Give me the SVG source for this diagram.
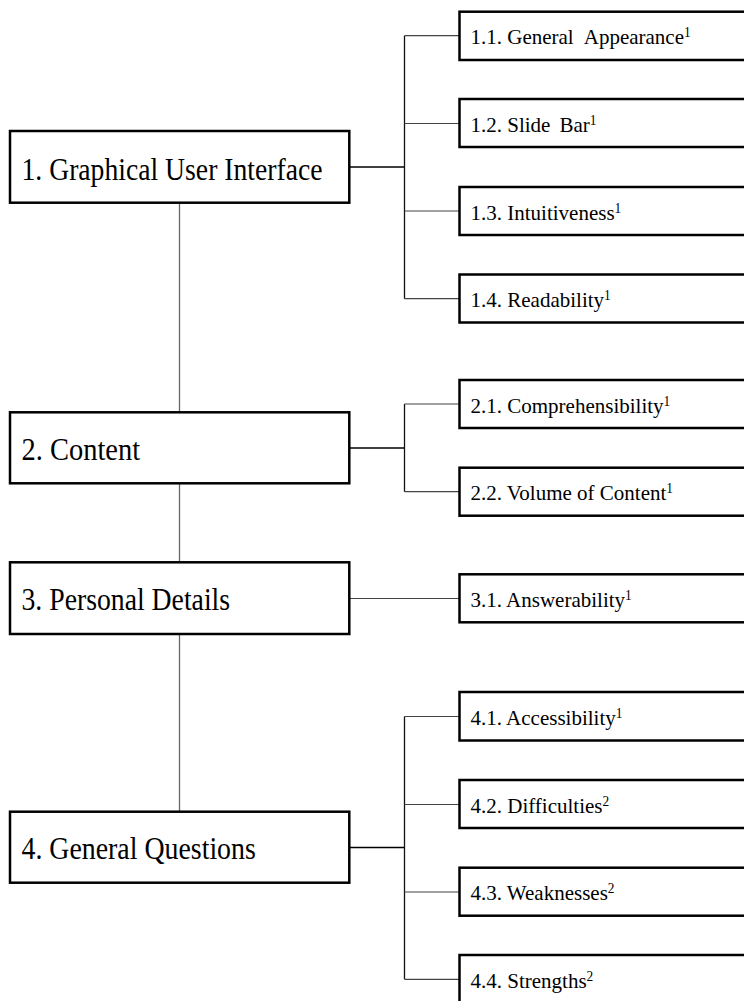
<svg xmlns="http://www.w3.org/2000/svg" width="744" height="1001" viewBox="0 0 744 1001">
  <style>
    .main rect { fill: #fff; stroke: #000; stroke-width: 2.5; }
    .sub rect { fill: #fff; stroke: #000; stroke-width: 2.5; }
    .main text { font-family: "Liberation Serif", "Times New Roman", serif; font-size: 32px; fill: #000; }
    .sub text { font-family: "Liberation Serif", "Times New Roman", serif; font-size: 22px; fill: #000; }
    .sup { font-size: 14px; }
    .trunk { stroke: #666; stroke-width: 1.3; fill: none; }
    .stem { stroke: #000; stroke-width: 1.6; fill: none; }
    .bracket { stroke: #111; stroke-width: 1.3; fill: none; }
    .branch { stroke: #444; stroke-width: 1.2; fill: none; }
  </style>

  <!-- connectors -->
  <g id="connectors">
    <!-- vertical trunk joining the four sections -->
    <line class="trunk" x1="179.5" y1="203" x2="179.5" y2="412"/>
    <line class="trunk" x1="179.5" y1="484" x2="179.5" y2="562"/>
    <line class="trunk" x1="179.5" y1="634" x2="179.5" y2="811"/>

    <!-- section 1 -->
    <line class="stem" x1="349" y1="167" x2="404.5" y2="167"/>
    <line class="bracket" x1="404.5" y1="35.7" x2="404.5" y2="298.7"/>
    <line class="branch" x1="404.5" y1="35.7" x2="459.5" y2="35.7"/>
    <line class="branch" x1="404.5" y1="123.5" x2="459.5" y2="123.5"/>
    <line class="branch" x1="404.5" y1="211" x2="459.5" y2="211"/>
    <line class="branch" x1="404.5" y1="298.7" x2="459.5" y2="298.7"/>

    <!-- section 2 -->
    <line class="stem" x1="349" y1="448" x2="404.5" y2="448"/>
    <line class="bracket" x1="404.5" y1="404" x2="404.5" y2="491.7"/>
    <line class="branch" x1="404.5" y1="404" x2="459.5" y2="404"/>
    <line class="branch" x1="404.5" y1="491.7" x2="459.5" y2="491.7"/>

    <!-- section 3 -->
    <line class="branch" x1="349" y1="598.5" x2="459.5" y2="598.5"/>

    <!-- section 4 -->
    <line class="stem" x1="349" y1="847.5" x2="404.5" y2="847.5"/>
    <line class="bracket" x1="404.5" y1="716.5" x2="404.5" y2="979.3"/>
    <line class="branch" x1="404.5" y1="716.5" x2="459.5" y2="716.5"/>
    <line class="branch" x1="404.5" y1="804.5" x2="459.5" y2="804.5"/>
    <line class="branch" x1="404.5" y1="892" x2="459.5" y2="892"/>
    <line class="branch" x1="404.5" y1="979.3" x2="459.5" y2="979.3"/>
  </g>

  <!-- main sections -->
  <g id="n1" class="main">
    <rect x="10" y="131" width="339.3" height="71.7"/>
    <text x="21.5" y="179.5" textLength="301" lengthAdjust="spacingAndGlyphs">1. Graphical User Interface</text>
  </g>
  <g id="n2" class="main">
    <rect x="10" y="412.3" width="339.3" height="71"/>
    <text x="21.5" y="459.5" textLength="118.6" lengthAdjust="spacingAndGlyphs">2. Content</text>
  </g>
  <g id="n3" class="main">
    <rect x="10" y="562.3" width="339.3" height="71.7"/>
    <text x="21.5" y="609.5" textLength="208.6" lengthAdjust="spacingAndGlyphs">3. Personal Details</text>
  </g>
  <g id="n4" class="main">
    <rect x="10" y="811.7" width="339.3" height="71"/>
    <text x="21.5" y="858.5" textLength="234.3" lengthAdjust="spacingAndGlyphs">4. General Questions</text>
  </g>

  <!-- sub-items -->
  <g id="n1-1" class="sub">
    <rect x="459.5" y="11.7" width="290" height="48.3"/>
    <text transform="translate(470.5 44) scale(0.955 1)">1.1. General <tspan dx="5">Appearance</tspan><tspan class="sup" dy="-7">1</tspan></text>
  </g>
  <g id="n1-2" class="sub">
    <rect x="459.5" y="99" width="290" height="48"/>
    <text transform="translate(470.5 131.5) scale(0.955 1)">1.2. Slide <tspan dx="4">Bar</tspan><tspan class="sup" dy="-7">1</tspan></text>
  </g>
  <g id="n1-3" class="sub">
    <rect x="459.5" y="187" width="290" height="48"/>
    <text transform="translate(470.5 219.5) scale(0.955 1)">1.3. Intuitiveness<tspan class="sup" dy="-7">1</tspan></text>
  </g>
  <g id="n1-4" class="sub">
    <rect x="459.5" y="274.5" width="290" height="48"/>
    <text transform="translate(470.5 307) scale(0.955 1)">1.4. Readability<tspan class="sup" dy="-7">1</tspan></text>
  </g>
  <g id="n2-1" class="sub">
    <rect x="459.5" y="380" width="290" height="48"/>
    <text transform="translate(470.5 412.5) scale(0.955 1)">2.1. Comprehensibility<tspan class="sup" dy="-7">1</tspan></text>
  </g>
  <g id="n2-2" class="sub">
    <rect x="459.5" y="467.7" width="290" height="48"/>
    <text transform="translate(470.5 500.2) scale(0.955 1)">2.2. Volume of Content<tspan class="sup" dy="-7">1</tspan></text>
  </g>
  <g id="n3-1" class="sub">
    <rect x="459.5" y="574.3" width="290" height="48"/>
    <text transform="translate(470.5 606.8) scale(0.955 1)">3.1. Answerability<tspan class="sup" dy="-7">1</tspan></text>
  </g>
  <g id="n4-1" class="sub">
    <rect x="459.5" y="692" width="290" height="48.5"/>
    <text transform="translate(470.5 724.5) scale(0.955 1)">4.1. Accessibility<tspan class="sup" dy="-7">1</tspan></text>
  </g>
  <g id="n4-2" class="sub">
    <rect x="459.5" y="780" width="290" height="48"/>
    <text transform="translate(470.5 812.5) scale(0.955 1)">4.2. Difficulties<tspan class="sup" dy="-7">2</tspan></text>
  </g>
  <g id="n4-3" class="sub">
    <rect x="459.5" y="867.7" width="290" height="48"/>
    <text transform="translate(470.5 900.2) scale(0.955 1)">4.3. Weaknesses<tspan class="sup" dy="-7">2</tspan></text>
  </g>
  <g id="n4-4" class="sub">
    <rect x="459.5" y="955" width="290" height="48"/>
    <text transform="translate(470.5 987.5) scale(0.955 1)">4.4. Strengths<tspan class="sup" dy="-7">2</tspan></text>
  </g>
</svg>
